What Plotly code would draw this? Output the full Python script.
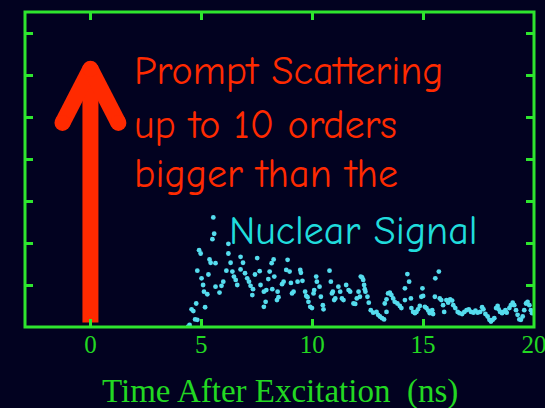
import plotly.graph_objects as go

# Time-resolved counts after excitation (ns, arbitrary units)
time_ns = [
    4.41, 4.47, 4.56, 4.64, 4.72, 4.77, 4.82, 4.82, 4.90, 4.97,
    5.01, 5.08, 5.12, 5.17, 5.27, 5.32, 5.37, 5.42, 5.50, 5.54,
    5.58, 5.64, 5.64, 5.82, 5.91, 5.99, 6.13, 6.22, 6.22, 6.32,
    6.40, 6.47, 6.55, 6.62, 6.77, 6.77, 6.88, 6.97, 7.07, 7.15,
    7.22, 7.30, 7.33, 7.42, 7.52, 7.63, 7.67, 7.82, 7.82, 7.90,
    7.93, 8.02, 8.08, 8.17, 8.20, 8.26, 8.29, 8.41, 8.44, 8.48,
    8.64, 8.71, 8.83, 8.89, 8.98, 9.04, 9.09, 9.16, 9.34, 9.46,
    9.49, 9.56, 9.68, 9.73, 9.79, 9.83, 9.91, 9.99, 10.06, 10.09,
    10.18, 10.21, 10.33, 10.39, 10.48, 10.51, 10.78, 10.84, 10.89, 10.93,
    10.99, 11.04, 11.18, 11.26, 11.34, 11.41, 11.53, 11.64, 11.71, 11.86,
    11.94, 12.01, 12.09, 12.15, 12.19, 12.25, 12.30, 12.34, 12.37, 12.40,
    12.49, 12.55, 12.64, 12.75, 12.90, 12.97, 13.05, 13.15, 13.24, 13.27,
    13.35, 13.35, 13.42, 13.50, 13.57, 13.65, 13.72, 13.84, 13.95, 14.02,
    14.18, 14.18, 14.29, 14.37, 14.45, 14.47, 14.55, 14.63, 14.70, 14.77,
    14.85, 14.92, 14.97, 15.00, 15.08, 15.15, 15.23, 15.30, 15.41, 15.45,
    15.53, 15.55, 15.71, 15.75, 15.82, 15.90, 15.95, 16.05, 16.13, 16.22,
    16.31, 16.36, 16.45, 16.56, 16.64, 16.76, 16.86, 16.96, 17.06, 17.16,
    17.27, 17.36, 17.46, 17.57, 17.66, 17.72, 17.81, 17.91, 17.99, 18.06,
    18.14, 18.21, 18.29, 18.36, 18.41, 18.47, 18.56, 18.62, 18.71, 18.77,
    18.89, 18.96, 19.04, 19.11, 19.19, 19.26, 19.34, 19.41, 19.49, 19.56,
    19.64, 19.71, 19.79, 19.86, 19.91, 19.97,
]
counts = [
    0.01, 0.05, 0.42, 0.38, 0.18, 0.56, 0.17, 1.34, 1.83, 1.75,
    1.16, 1.00, 0.84, 0.47, 0.78, 1.25, 1.61, 1.53, 2.09, 2.61,
    2.22, 1.52, 0.96, 0.82, 0.98, 1.08, 1.34, 1.98, 1.75, 1.53,
    1.32, 1.20, 1.12, 1.00, 1.67, 1.37, 1.53, 1.28, 1.16, 1.08,
    0.98, 0.76, 0.90, 1.25, 1.64, 1.33, 1.00, 0.84, 0.48, 0.60,
    0.88, 1.14, 1.32, 1.52, 0.90, 1.61, 1.20, 0.64, 0.84, 0.71,
    1.02, 1.08, 1.36, 1.60, 1.32, 1.05, 0.80, 0.84, 1.08, 1.36,
    1.29, 1.10, 0.84, 0.74, 0.71, 0.60, 0.48, 0.45, 0.80, 0.88,
    1.20, 1.08, 0.96, 0.72, 0.52, 0.42, 1.34, 1.08, 0.80, 0.84,
    0.64, 0.68, 0.96, 0.84, 0.68, 0.64, 1.00, 0.88, 0.84, 0.56,
    0.55, 0.68, 0.84, 0.72, 1.20, 1.18, 1.12, 1.00, 0.90, 0.84,
    0.72, 0.58, 0.40, 0.34, 0.36, 0.29, 0.25, 0.21, 0.18, 0.56,
    0.36, 0.66, 0.80, 0.82, 0.76, 0.68, 0.60, 0.56, 0.50, 0.45,
    0.64, 0.92, 1.26, 1.08, 0.68, 0.45, 0.36, 0.33, 0.36, 0.42,
    0.50, 0.72, 0.92, 0.74, 0.48, 0.45, 0.39, 0.33, 0.40, 0.31,
    0.72, 1.16, 1.32, 0.68, 0.64, 0.52, 0.36, 0.64, 0.58, 0.66,
    0.63, 0.52, 0.45, 0.36, 0.33, 0.31, 0.36, 0.40, 0.42, 0.36,
    0.34, 0.39, 0.34, 0.36, 0.47, 0.42, 0.31, 0.25, 0.17, 0.13,
    0.17, 0.21, 0.45, 0.50, 0.42, 0.36, 0.33, 0.36, 0.40, 0.34,
    0.45, 0.52, 0.58, 0.52, 0.40, 0.29, 0.18, 0.17, 0.25, 0.40,
    0.56, 0.60, 0.52, 0.40, 0.33, 0.36,
]

x_tick_values = [0, 5, 10, 15, 20]
x_tick_labels = ["0", "5", "10", "15", "20"]
y_tick_values = [0, 1, 2, 3, 4, 5, 6, 7]

# Prompt-scattering arrow at t = 0 (data units)
ARROW_X = 0.0
ARROW_BASE = 0.11
ARROW_TIP = 6.15
HEAD_HALF_WIDTH = 1.26
HEAD_DROP = 1.29

BG = "#020220"
GREEN = "#2ee62e"
LABEL_GREEN = "#22d822"
RED = "#ff2a00"
CYAN_DOTS = "#55dcee"
CYAN_TEXT = "#20dcdc"
ARROW_WIDTH = 16

fig = go.Figure()

fig.add_trace(go.Scatter(
    x=time_ns, y=counts, mode="markers",
    marker=dict(size=4.8, color=CYAN_DOTS, line=dict(width=0)),
    hoverinfo="skip", showlegend=False,
))

# arrow shaft
fig.add_trace(go.Scatter(
    x=[ARROW_X, ARROW_X], y=[ARROW_BASE, ARROW_TIP], mode="lines",
    line=dict(color=RED, width=ARROW_WIDTH),
    hoverinfo="skip", showlegend=False,
))
# arrow head: two strokes with rounded ends
head_y = ARROW_TIP - HEAD_DROP
for side in (-1, 1):
    fig.add_trace(go.Scatter(
        x=[ARROW_X + side * HEAD_HALF_WIDTH, ARROW_X],
        y=[head_y, ARROW_TIP], mode="lines",
        line=dict(color=RED, width=ARROW_WIDTH),
        hoverinfo="skip", showlegend=False,
    ))
fig.add_trace(go.Scatter(
    x=[ARROW_X - HEAD_HALF_WIDTH, ARROW_X, ARROW_X + HEAD_HALF_WIDTH],
    y=[head_y, ARROW_TIP, head_y], mode="markers",
    marker=dict(size=ARROW_WIDTH, color=RED, line=dict(width=0)),
    hoverinfo="skip", showlegend=False,
))

comic = "Comic Sans MS, Comic Neue, DejaVu Sans, sans-serif"
TEXT_SIZE = 40
prompt_lines = ["Prompt Scattering", "up to 10 orders", "bigger than the"]
prompt_y = [6.10, 4.80, 3.65]
for text, yy in zip(prompt_lines, prompt_y):
    fig.add_annotation(
        x=1.89, y=yy, xref="x", yref="y", text=text, showarrow=False,
        xanchor="left", yanchor="middle",
        font=dict(family=comic, size=TEXT_SIZE, color=RED),
    )
fig.add_annotation(
    x=6.17, y=2.29, xref="x", yref="y", text="Nuclear Signal", showarrow=False,
    xanchor="left", yanchor="middle",
    font=dict(family=comic, size=TEXT_SIZE, color=CYAN_TEXT),
)

serif = "Palatino Linotype, Book Antiqua, Liberation Serif, serif"
fig.add_annotation(
    x=0.5, y=-0.204, xref="paper", yref="paper",
    text="Time After Excitation\u00a0 (ns)", showarrow=False,
    xanchor="center", yanchor="middle",
    font=dict(family=serif, size=33, color=LABEL_GREEN),
)

# plot frame
fig.add_shape(
    type="rect", xref="paper", yref="paper", x0=0, x1=1, y0=0, y1=1,
    line=dict(color=GREEN, width=3), layer="above",
)

fig.update_xaxes(
    range=[-2.95, 20], tickvals=x_tick_values, ticktext=x_tick_labels,
    ticks="inside", ticklen=8, tickwidth=3, tickcolor=GREEN, mirror="ticks",
    showline=False, showgrid=False, zeroline=False,
    ticklabeloverflow="allow", automargin=False,
    tickfont=dict(family=serif, size=25, color=LABEL_GREEN),
)
fig.update_yaxes(
    range=[0, 7.5], tickvals=y_tick_values, showticklabels=False,
    ticks="inside", ticklen=8, tickwidth=3, tickcolor=GREEN, mirror="ticks",
    showline=False, showgrid=False, zeroline=False, automargin=False,
)

fig.update_layout(
    width=545, height=408,
    margin=dict(l=24.5, r=10.5, t=12, b=80.7, pad=0),
    paper_bgcolor=BG, plot_bgcolor=BG,
    showlegend=False,
)

fig.write_html("out.html")
